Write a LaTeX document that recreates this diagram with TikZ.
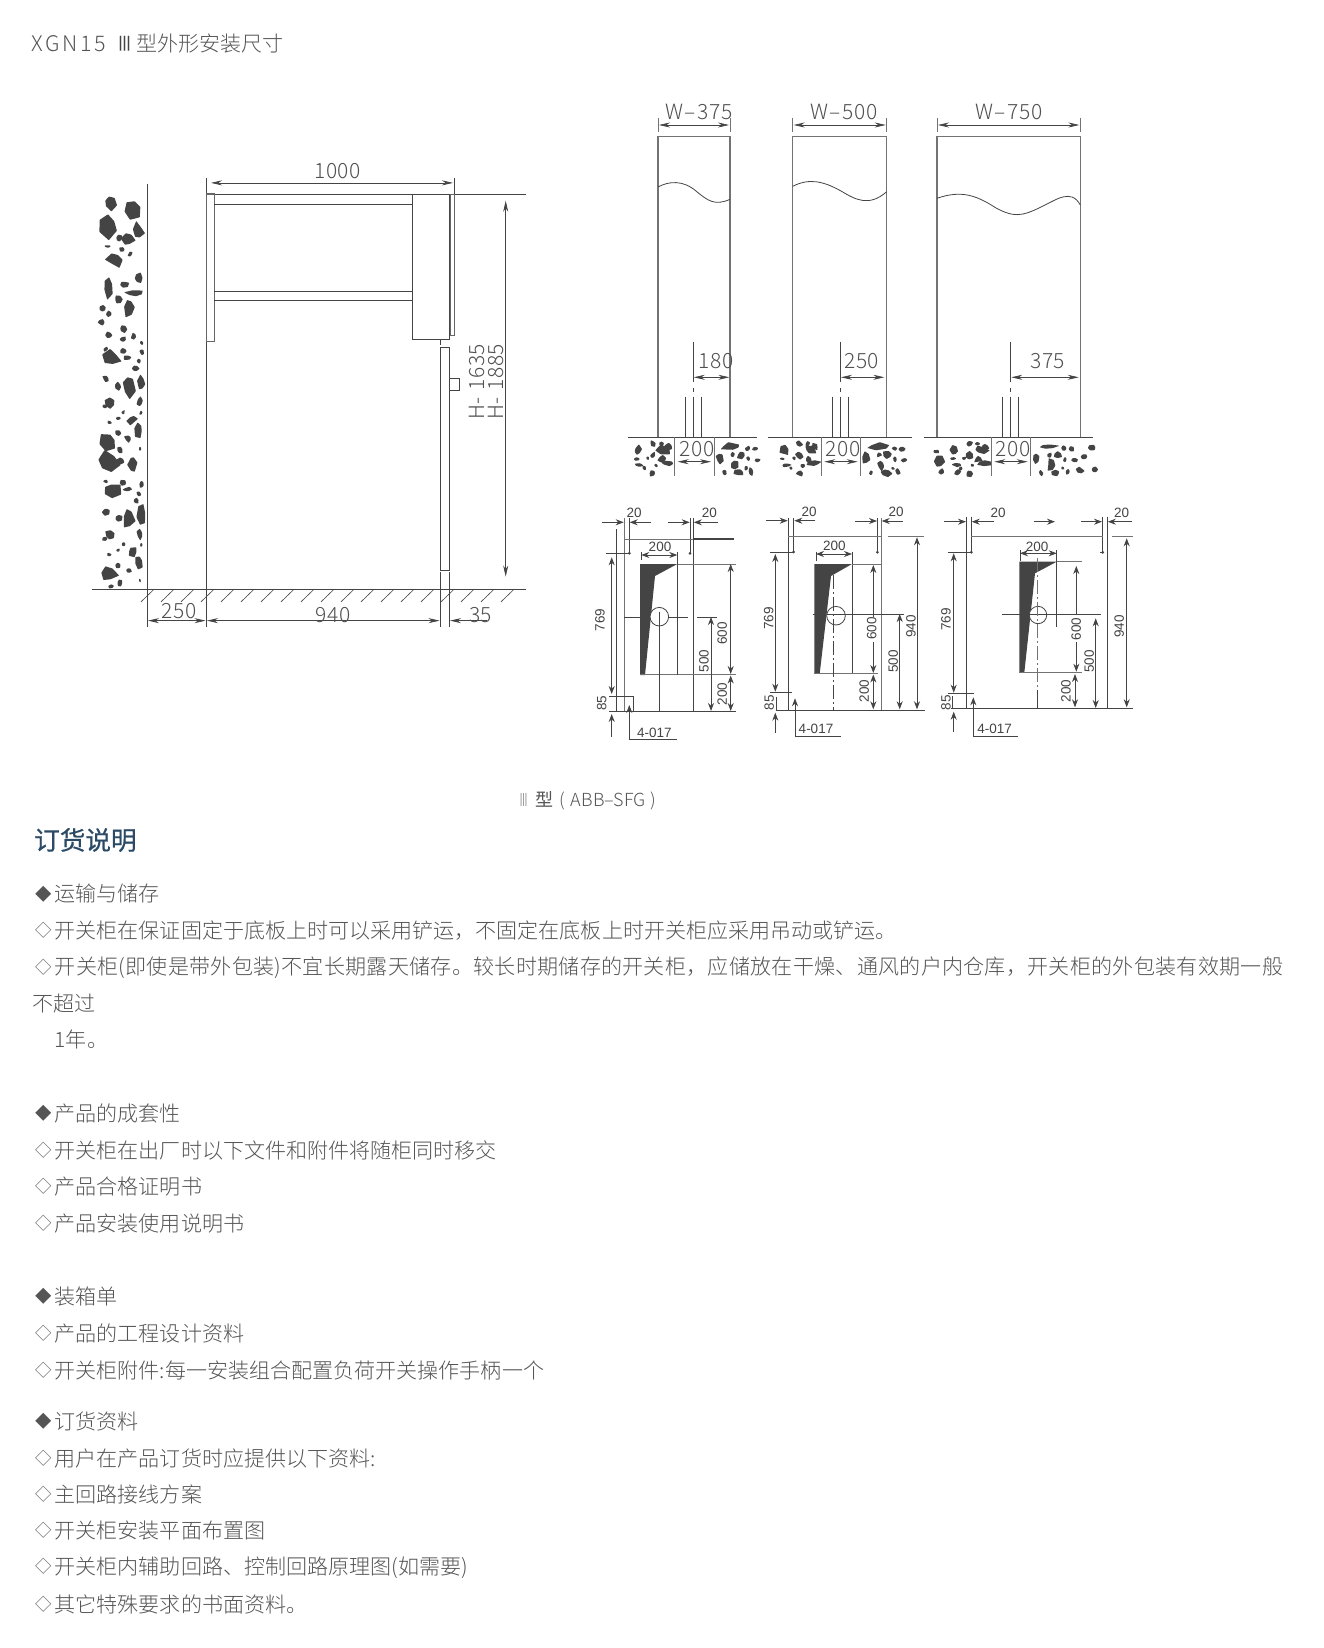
\documentclass[tikz,border=0pt]{standalone}
\usepackage{fontspec}
\usepackage{graphicx}
\usetikzlibrary{arrows.meta}
\setmainfont{Liberation Sans}
\newfontfamily\cjk{Noto Sans CJK SC Light}
\newfontfamily\cjkm{Noto Sans CJK SC}
\newfontfamily\cjkh[FakeBold=0.5]{Noto Sans CJK SC}
\newfontfamily\dimf[LetterSpace=2.5]{Noto Sans CJK SC Light}
\newfontfamily\titf[LetterSpace=12]{Noto Sans CJK SC Light}
\newfontfamily\lsf[LetterSpace=1.25]{Noto Sans CJK SC Light}
\definecolor{ink}{HTML}{444444}
\definecolor{txtc}{HTML}{555555}
\definecolor{dimc}{HTML}{505050}
\definecolor{headc}{HTML}{2A4A66}
\newcommand{\dw}{\makebox[22.5pt][c]{\raisebox{1.8pt}{\scalebox{.78}{◇}}}}
\newcommand{\db}{\makebox[22.5pt][c]{\raisebox{1.8pt}{\scalebox{.78}{◆}}}}
\tikzset{
 ln/.style={draw=ink,line width=0.8pt},
 gln/.style={draw=black!55,line width=1.2pt},
 dimm/.style={draw=ink,line width=0.7pt,{Stealth[length=11pt,width=5pt]}-{Stealth[length=11pt,width=5pt]}},
 pdim/.style={draw=ink,line width=0.8pt,{Stealth[length=8pt,width=6pt]}-{Stealth[length=8pt,width=6pt]}},
 parr/.style={draw=ink,line width=0.8pt,-{Stealth[length=8pt,width=6pt]}},
 dlab/.style={inner sep=0pt,text=dimc,font=\dimf\fontsize{21}{21}\selectfont},
 plab/.style={inner sep=0pt,text=ink,font=\fontsize{13.5}{14}\selectfont},
 body/.style={inner sep=0pt,anchor=west,text=txtc,font=\cjk\fontsize{21.05}{21.05}\selectfont},
 stonefill/.style={fill=ink,rounded corners=0.5pt},
 centerl/.style={ln,dash pattern=on 14pt off 3pt on 2pt off 3pt},
}
\newcommand{\stone}[4]{%
 \pgfmathsetmacro\stO{360*rnd}%
 \pgfmathsetmacro\stA{0.7+0.9*rnd}\pgfmathsetmacro\stB{0.7+0.9*rnd}%
 \pgfmathsetmacro\stC{0.7+0.9*rnd}\pgfmathsetmacro\stD{0.7+0.9*rnd}%
 \pgfmathsetmacro\stE{0.7+0.9*rnd}\pgfmathsetmacro\stF{0.7+0.9*rnd}%
 \fill[stonefill] ({#1+#3*\stA*cos(\stO)},{#2+#4*\stA*sin(\stO)})
  -- ({#1+#3*\stB*cos(\stO+60)},{#2+#4*\stB*sin(\stO+60)})
  -- ({#1+#3*\stC*cos(\stO+120)},{#2+#4*\stC*sin(\stO+120)})
  -- ({#1+#3*\stD*cos(\stO+180)},{#2+#4*\stD*sin(\stO+180)})
  -- ({#1+#3*\stE*cos(\stO+240)},{#2+#4*\stE*sin(\stO+240)})
  -- ({#1+#3*\stF*cos(\stO+300)},{#2+#4*\stF*sin(\stO+300)}) -- cycle;}
\def\wallstones{150/215/15/17,218/235/20/22,145/283/24/28,235/300/14/22,205/325/15/17,177/322/8/9,143/345/7/3,185/355/7/5,165/385/20/20,210/368/6/6,145/465/13/26,192/457/11/9,235/440/10/12,175/503/10/10,223/485/22/8,208/525/14/24,128/530/10/10,145/545/9/7,123/571/9/9,189/590/9/9,147/609/10/10,189/622/9/8,220/612/7/7,245/632/4/6,137/650/6/6,155/676/22/20,190/655/9/7,200/675/12/6,245/660/5/8,237/687/6/6,227/708/8/8,138/739/9/9,175/760/10/10,205/760/16/30,245/750/10/22,150/810/12/12,133/820/7/5,240/808/8/13,190/838/5/6,243/840/4/5,147/868/6/4,175/855/5/4,217/860/12/11,237/890/11/18,145/925/24/24,172/900/8/7,205/915/9/9,240/945/3/5,180/950/7/8,145/985/25/24,182/982/9/9,217/990/10/24,137/1042/6/5,155/1068/22/20,190/1047/9/7,200/1067/12/6,245/1052/5/8,237/1079/6/6,227/1100/8/8,138/1131/9/9,175/1152/10/10,205/1152/16/30,245/1142/10/22,150/1202/12/12,133/1212/7/5,240/1200/8/13,190/1230/5/6,243/1232/4/5,147/1260/6/4,175/1247/5/4,217/1252/12/11,237/1282/11/18,145/1317/24/24,172/1292/8/7,205/1307/9/9,240/1337/3/5,180/1345/7/8,155/1355/7/5}
\def\gleft{80/1112/10/13,125/1090/8/8,160/1110/18/10,172/1100/10/8,125/1127/9/9,150/1092/6/6,152/1138/10/10,85/1155/12/5,110/1135/5/5,125/1180/9/8,170/1150/17/7,135/1157/5/5,100/1165/5/5,75/1137/8/4}
\def\gright{360/1100/30/9,390/1125/12/10,410/1105/7/7,433/1107/7/6,440/1140/8/6,325/1135/9/14,370/1155/11/14,385/1178/13/9,340/1178/5/8,412/1137/5/7,420/1175/7/10,405/1165/5/5,365/1125/6/6}
\def\gextra{985/1145/12/15,992/1175/10/8,975/1115/10/4,1040/1178/9/8,1443/1103/12/8,1420/1130/8/6,1408/1170/9/8,1450/1170/8/8}
\begin{document}
\begin{tikzpicture}[x=1pt,y=-1pt]
\useasboundingbox (0,0) rectangle (1323,1648);
\fill[white] (0,0) rectangle (1323,1648);
\pgfmathsetseed{4217}
% ---------- titles
\node[inner sep=0pt,anchor=west,text=txtc,font=\titf\fontsize{21.5}{21.5}\selectfont] (title) at (31.7,43.3) {XGN15};
\node[inner sep=0pt,text=ink,font=\cjkh\fontsize{20}{20}\selectfont] (titleb) at (124.5,43.3) {\scalebox{.68}[1]{Ⅲ}};
\node[inner sep=0pt,anchor=west,text=txtc,font=\cjk\fontsize{21}{21}\selectfont] (titlec) at (136.5,43.3) {型外形安装尺寸};
\node[inner sep=0pt,anchor=west,text=txtc,font=\cjk\fontsize{18}{18}\selectfont] (caption) at (519,800.7) {{\scalebox{.5}[1]{Ⅲ}}\kern7pt{\cjkm 型}\kern6pt(\kern6pt ABB–SFG\kern5pt)};
\node[inner sep=0pt,anchor=west,text=headc,font=\cjkh\fontsize{25.6}{26}\selectfont] (heading) at (34,840) {订货说明};
% ---------- body
\node[body] (t1) at (32,893.8) {\db 运输与储存};
\node[body] (t2) at (32,930.7) {\dw 开关柜在保证固定于底板上时可以采用铲运，不固定在底板上时开关柜应采用吊动或铲运。};
\node[body] (t3) at (32,968) {\dw{\lsf 开关柜(即使是带外包装)不宜长期露天储存。较长时期储存的开关柜，应储放在干燥、通风的户内仓库，开关柜的外包装有效期一般}};
\node[body] (t4) at (32,1003.7) {不超过};
\node[body] (t5) at (54.5,1039.3) {1年。};
\node[body] (t6) at (32,1113.2) {\db 产品的成套性};
\node[body] (t7) at (32,1150.2) {\dw 开关柜在出厂时以下文件和附件将随柜同时移交};
\node[body] (t8) at (32,1186.7) {\dw 产品合格证明书};
\node[body] (t9) at (32,1223.2) {\dw 产品安装使用说明书};
\node[body] (t10) at (32,1296.2) {\db 装箱单};
\node[body] (t11) at (32,1333.2) {\dw 产品的工程设计资料};
\node[body] (t12) at (32,1370.2) {\dw 开关柜附件:每一安装组合配置负荷开关操作手柄一个};
\node[body] (t13) at (32,1421.2) {\db 订货资料};
\node[body] (t14) at (32,1458.2) {\dw 用户在产品订货时应提供以下资料:};
\node[body] (t15) at (32,1494) {\dw 主回路接线方案};
\node[body] (t16) at (32,1530.5) {\dw 开关柜安装平面布置图};
\node[body] (t17) at (32,1568) {\dw 开关柜内辅助回路、控制回路原理图(如需要)};
\node[body] (t18) at (32,1604.3) {\dw 其它特殊要求的书面资料。};
% ---------- side view
\begin{scope}[y=-1.011pt,yshift=1.43pt]
\begin{scope}[shift={(60,130)},x=0.3333pt,y=-0.337pt]
 \foreach \a/\b/\c/\d in \wallstones {\stone{\a}{\b}{\c}{\d}}
\end{scope}
\draw[ln] (147.3,183) -- (147.3,621.7);
\draw[ln] (92,584) -- (526,584);
\draw[ln] (206.3,177) -- (206.3,621.7);
\draw[ln] (206.3,193.3) -- (526,193.3);
\draw[ln,line width=1.1pt,draw=black!60] (206.3,193.3) rectangle (214.3,339.3);
\draw[ln] (214.3,203.3) -- (412.3,203.3) (214.3,290) -- (412.3,290) (214.3,299) -- (412.3,299);
\draw[ln] (412.3,193.3) rectangle (449.3,337.3);
\draw[ln,draw=black!60] (450,193.3) rectangle (454.7,333.3);
\draw[ln] (454.7,177) -- (454.7,193.3);
\draw[ln] (440.3,337.3) -- (440.3,343);
\draw[ln] (440.3,345.3) rectangle (449.3,565.3);
\draw[ln] (449.3,375.7) rectangle (459.3,387.7);
\draw[ln] (440.3,567.3) -- (440.3,621.7) (449.3,567.3) -- (449.3,621.7);
\foreach \i in {0,...,18} {\draw[ln,line width=0.6pt] ({141+20*\i},596.7) -- ({154.3+20*\i},584);}
\draw[dimm] (211,182.3) -- (453,182.3);
\draw[dimm] (148,615.3) -- (205.5,615.3);
\draw[dimm] (207,615.3) -- (439.5,615.3);
\draw[draw=ink,line width=0.7pt,{Stealth[length=11pt,width=5pt]}-] (450,615.3) -- (487,615.3);
\draw[dimm] (505.7,200) -- (505.7,571.7);
\node[dlab] (d1000) at (337.7,170.7) {1000};
\node[dlab] (d250) at (179,606) {250};
\node[dlab] (d940) at (333,609.3) {940};
\node[dlab] (d35) at (480.7,609.3) {35};
\node[dlab,rotate=90] (h1) at (476.7,379) {H-\kern7pt1635};
\node[dlab,rotate=90] (h2) at (495.7,379) {H-\kern7pt1885};
\end{scope}
\begin{scope}[xshift=1pt]
% ---------- elevations
\begin{scope}[shift={(610,80)},x=0.3333pt,y=-0.3333pt]
 \foreach \o in {0,440,950} {
  \foreach \a/\b/\c/\d in \gleft {\stone{\a+\o}{\b}{\c}{\d}}
  \foreach \a/\b/\c/\d in \gright {\stone{\a+\o}{\b}{\c}{\d}}
 }
 \foreach \a/\b/\c/\d in \gextra {\stone{\a}{\b}{\c}{\d}}
\end{scope}
% panels
\draw[gln] (657,437.3) -- (657,136.7) -- (729,136.7) -- (729,437.3);
\draw[gln] (791.7,437.3) -- (791.7,136.7) -- (885.7,136.7) -- (885.7,437.3);
\draw[gln] (936,437.3) -- (936,136.7) -- (1079.3,136.7) -- (1079.3,437.3);
\draw[ln] (657,187) .. controls (668,181) and (682,180) .. (695,191) .. controls (707,201) and (714,206) .. (729,199.3);
\draw[ln] (791.7,186.3) .. controls (808,178) and (822,181) .. (840,191) .. controls (855,200) and (868,207) .. (885.7,191.7);
\draw[ln] (936,198.3) .. controls (960,190) and (975,195) .. (995,208) .. controls (1012,217) and (1020,217) .. (1040,207) .. controls (1055,200) and (1070,188) .. (1079.3,205);
\foreach \xa/\xb in {657/729,791.7/885.7,936/1079.3} {
 \draw[ln,draw=black!55] (\xa,118.3) -- (\xa,131.7) (\xb,118.3) -- (\xb,131.7);
 \draw[dimm] (\xa+1,125) -- (\xb-1,125);
}
\node[dlab] (w1) at (698,111.7) {W\kern1pt–\kern2pt375};
\node[dlab] (w2) at (843.3,111.7) {W\kern1pt–\kern2pt500};
\node[dlab] (w3) at (1008.3,111.7) {W\kern1pt–\kern2pt750};
\draw[ln] (626.7,437.3) -- (756,437.3) (766.7,437.3) -- (911,437.3) (923.3,437.3) -- (1091.7,437.3);
\foreach \c/\s/\t in {692.3/684/700.7,839.3/831/847.3,1009.7/1001.3/1017.7} {
 \draw[ln] (\c,341.7) -- (\c,381.7) (\c,388) -- (\c,392) (\c,396.7) -- (\c,437.3);
 \draw[ln] (\s,396.7) -- (\s,437.3) (\t,396.7) -- (\t,437.3);
}
\draw[dimm] (692.8,377.3) -- (728.3,377.3);
\draw[dimm] (840,377.3) -- (883.3,377.3);
\draw[dimm] (1010.3,377.3) -- (1077.7,377.3);
\node[dlab] (l180) at (715,360.7) {180};
\node[dlab] (l250) at (860.7,360.7) {250};
\node[dlab] (l375) at (1046.7,360.7) {375};
\foreach \a/\b/\la/\lb in {673.3/713/676.7/710,820.3/859.3/823.3/856.7,990.3/1029.7/993.3/1026.7} {
 \draw[ln,draw=black!55] (\a,437.3) -- (\a,475.7) (\b,437.3) -- (\b,475.7);
 \draw[dimm] (\la,461.7) -- (\lb,461.7);
}
\node[dlab] (g1) at (696,449) {200};
\node[dlab] (g2) at (842,449) {200};
\node[dlab] (g3) at (1012.3,449) {200};
% ---------- plan 1
\fill[ink] (639,564) -- (676.3,564) -- (654,576) -- (644,675) -- (639,675) -- cycle;
\draw[ln] (615.7,529.3) -- (615.7,711);
\draw[gln] (623.3,518) -- (623.3,711);
\draw[ln] (628.3,518) -- (628.3,553.3) (689,518) -- (689,553.3) (692.3,518) -- (692.3,711);
\fill[ink] (628.3,553.3) circle[radius=1.5pt] (689,553.3) circle[radius=1.5pt];
\draw[gln,line width=0.9pt] (623.3,539) -- (692,539);
\draw[ink,line width=1.2pt] (692,539) -- (732.7,539);
\draw[ln] (605,553.3) -- (628.3,553.3);
\draw[gln,line width=0.9pt] (676.3,564) -- (735,564) (639,674.5) -- (735,674.5);
\draw[ln] (676.3,551.7) -- (676.3,675);
\draw[ln] (640.3,551.7) -- (640.3,560);
\draw[pdim] (640.3,555) -- (676.3,555);
\draw[ln] (623.3,617) -- (650,617) (667.3,617) -- (686.7,617) (696,617) -- (716,617);
\draw[ln,fill=white] (658.3,616.7) circle[radius=9.3pt];
\draw[ln] (658.3,611.7) -- (658.3,711);
\draw[pdim] (729.7,564) -- (729.7,674);
\draw[pdim] (710,617) -- (710,711);
\draw[pdim] (729.7,675.5) -- (729.7,711);
\draw[ln] (608.3,711) -- (735,711);
\draw[pdim] (610.7,557.3) -- (610.7,694);
\draw[ln] (608.3,696) -- (632.3,696) -- (632.3,711);
\draw[parr] (610.7,736.7) -- (610.7,714);
\draw[parr] (628.3,739.3) -- (628.3,705);
\draw[ln] (628.3,739.3) -- (675.7,739.3);
\draw[parr] (601,522.3) -- (622.7,522.3);
\draw[parr] (650,522.3) -- (628.7,522.3);
\draw[parr] (667.3,522.3) -- (688.7,522.3);
\draw[parr] (716.7,522.3) -- (692.8,522.3);
\node[plab] (a1) at (633,513.3) {20};
\node[plab] (a2) at (708.3,513.3) {20};
\node[plab] (a3) at (659,547.3) {200};
\node[plab,rotate=90] (a4) at (721.3,633.3) {600};
\node[plab,rotate=90] (a5) at (703,661) {500};
\node[plab,rotate=90] (a6) at (721.3,694) {200};
\node[plab,rotate=90] (a7) at (599,620) {769};
\node[plab,rotate=90] (a8) at (600.7,703.3) {85};
\node[plab] (a9) at (653.3,732.7) {4-017};
% ---------- plan 2
\fill[ink] (813.3,564) -- (851,564) -- (830,576) -- (818.7,673.7) -- (813.3,673.7) -- cycle;
\draw[ln] (787.3,518.3) -- (787.3,710) (792.7,518.3) -- (792.7,552);
\draw[ln] (876.3,518.3) -- (876.3,552.3);
\draw[gln,line width=1pt] (880.3,518.3) -- (880.3,710);
\fill[ink] (792.7,552) circle[radius=1.5pt] (876.3,552.3) circle[radius=1.5pt];
\draw[ln] (769.3,552) -- (792.7,552);
\draw[gln,line width=0.9pt] (787.3,536.7) -- (880.3,536.7) (886.7,536.7) -- (922.7,536.7);
\draw[parr] (765,520.7) -- (786.7,520.7);
\draw[parr] (814.3,520.7) -- (793.3,520.7);
\draw[parr] (854,521) -- (876,521);
\draw[parr] (901.7,521) -- (880.7,521);
\draw[ln] (851,551.7) -- (851,674);
\draw[ln] (815,551.7) -- (815,560.7);
\draw[pdim] (815,554) -- (851,554);
\draw[gln,line width=0.9pt] (851,564) -- (880.3,564) (813.3,673.5) -- (876.7,673.5);
\draw[ln] (811.7,614) -- (903.3,614);
\draw[ln,fill=white] (835,615.7) circle[radius=9.3pt];
\draw[ln] (825.5,614) -- (844.5,614);
\draw[centerl] (832.3,575) -- (832.3,710);
\draw[pdim] (774.3,554) -- (774.3,691.7);
\draw[ln] (769.3,692.7) -- (790.7,692.7);
\draw[ln] (775,696.7) -- (775,710);
\draw[ln] (775,710) -- (924,710);
\draw[parr] (774.3,732.7) -- (774.3,712.7);
\draw[parr] (794,736) -- (794,698.3);
\draw[ln] (794,736) -- (840,736);
\draw[parr] (872.3,620) -- (872.3,565);
\draw[parr] (872.3,642) -- (872.3,673);
\draw[pdim] (872.3,674.5) -- (872.3,709.3);
\draw[pdim] (898.7,614) -- (898.7,709.3);
\draw[pdim] (916,537.3) -- (916,709.3);
\node[plab] (b1) at (808,511.7) {20};
\node[plab] (b2) at (895,511.7) {20};
\node[plab] (b3) at (833.3,545.7) {200};
\node[plab,rotate=90,fill=white] (b4) at (870.7,628.3) {600};
\node[plab,rotate=90] (b5) at (892.3,661.7) {500};
\node[plab,rotate=90] (b6) at (863.3,691) {200};
\node[plab,rotate=90] (b7) at (910,626.7) {940};
\node[plab,rotate=90] (b8) at (767.7,618.3) {769};
\node[plab,rotate=90] (b9) at (768.3,702.7) {85};
\node[plab] (b10) at (815,729.3) {4-017};
% ---------- plan 3
\fill[ink] (1018.3,561.7) -- (1055.7,561.7) -- (1034,573.3) -- (1023.3,672.7) -- (1018.3,672.7) -- cycle;
\draw[ln] (965.3,516.7) -- (965.3,708.3) (970.3,516.7) -- (970.3,552.3);
\draw[ln] (1101.7,516.7) -- (1101.7,552.3);
\draw[ln] (1106.3,516.7) -- (1106.3,708.3);
\fill[ink] (970.3,552.3) circle[radius=1.5pt] (1101.7,552.3) circle[radius=1.5pt];
\draw[ln] (947.3,552.3) -- (970.3,552.3) (1099,552.3) -- (1101.7,552.3);
\draw[gln,line width=0.9pt] (970.3,536) -- (1101.7,536) (1110.7,536) -- (1131.7,536);
\draw[parr] (943.3,521.7) -- (965,521.7);
\draw[parr] (992.7,521.7) -- (970.7,521.7);
\draw[parr] (1032.7,521.7) -- (1054,521.7);
\draw[parr] (1080,521.7) -- (1101,521.7);
\draw[parr] (1130.7,521.7) -- (1106.8,521.7);
\draw[ln] (1055.7,550) -- (1055.7,626.7) (1019,550) -- (1019,560.7);
\draw[pdim] (1019,553.3) -- (1055.7,553.3);
\draw[gln,line width=0.9pt] (1055.7,561.7) -- (1080.7,561.7) (1018.3,672.7) -- (1080.7,672.7);
\draw[ln] (1001,614.3) -- (1100,614.3);
\draw[ln,fill=white] (1037,615) circle[radius=8.7pt];
\draw[ln] (1028,614.3) -- (1046,614.3);
\draw[centerl,draw=black!55] (1036.7,558) -- (1036.7,690);
\draw[ln] (1036.7,690) -- (1036.7,708.3);
\draw[ln] (950,708.3) -- (1131.7,708.3);
\draw[parr] (1075.3,615) -- (1075.3,566);
\draw[parr] (1075.3,642) -- (1075.3,671.7);
\draw[pdim] (1074,674) -- (1074,707.3);
\draw[pdim] (1094.7,618.3) -- (1094.7,708);
\draw[pdim] (1125.7,538.3) -- (1125.7,707.3);
\draw[pdim] (952.7,553.3) -- (952.7,692.7);
\draw[ln] (947.3,693.7) -- (972.7,693.7);
\draw[ln] (951.5,696) -- (951.5,708.3);
\draw[parr] (952.7,731.7) -- (952.7,711.7);
\draw[parr] (972.3,736) -- (972.3,697.3);
\draw[ln] (972.3,736) -- (1016.7,736);
\node[plab] (c1) at (997,513.3) {20};
\node[plab] (c2) at (1120.7,513.3) {20};
\node[plab] (c3) at (1036,546.7) {200};
\node[plab,rotate=90,fill=white] (c4) at (1075.3,629) {600};
\node[plab,rotate=90] (c5) at (1088.3,661.7) {500};
\node[plab,rotate=90] (c6) at (1065,691) {200};
\node[plab,rotate=90] (c7) at (1118.3,626.7) {940};
\node[plab,rotate=90] (c8) at (945,619.3) {769};
\node[plab,rotate=90] (c9) at (945,702.7) {85};
\node[plab] (c10) at (993.7,729.3) {4-017};
\end{scope}
\end{tikzpicture}
\end{document}
